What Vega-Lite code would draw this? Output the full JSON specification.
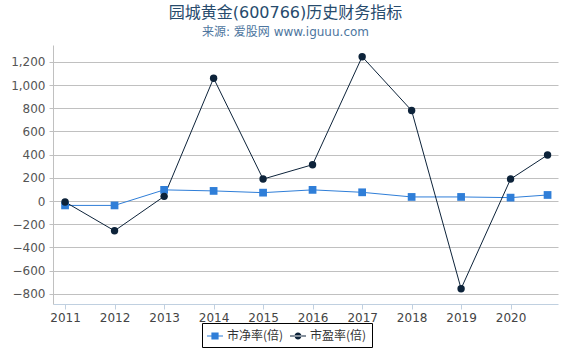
{
  "$schema": "https://vega.github.io/schema/vega-lite/v6.json",
  "width": 505,
  "height": 259,
  "autosize": {"type": "none"},
  "padding": {"left": 53, "top": 45, "right": 12, "bottom": 46},
  "background": "white",
  "title": {
    "text": "园城黄金(600766)历史财务指标",
    "subtitle": "来源: 爱股网 www.iguuu.com",
    "anchor": "middle",
    "dx": -20,
    "offset": 7,
    "font": "DejaVu Sans, Noto Sans CJK SC",
    "fontSize": 16,
    "fontWeight": "normal",
    "color": "#274b6d",
    "subtitleFont": "DejaVu Sans, Noto Sans CJK SC",
    "subtitleFontSize": 12,
    "subtitleColor": "#4d759e",
    "subtitlePadding": 6
  },
  "config": {
    "view": {"stroke": null},
    "font": "DejaVu Sans"
  },
  "data": {
    "values": [
      {"date": "2011-01-01", "series": "市净率(倍)", "value": -38},
      {"date": "2012-01-01", "series": "市净率(倍)", "value": -38},
      {"date": "2013-01-01", "series": "市净率(倍)", "value": 96},
      {"date": "2014-01-01", "series": "市净率(倍)", "value": 87},
      {"date": "2015-01-01", "series": "市净率(倍)", "value": 72},
      {"date": "2016-01-01", "series": "市净率(倍)", "value": 96},
      {"date": "2017-01-01", "series": "市净率(倍)", "value": 75},
      {"date": "2018-01-01", "series": "市净率(倍)", "value": 35},
      {"date": "2019-01-01", "series": "市净率(倍)", "value": 35},
      {"date": "2020-01-01", "series": "市净率(倍)", "value": 29},
      {"date": "2020-09-30", "series": "市净率(倍)", "value": 52},
      {"date": "2011-01-01", "series": "市盈率(倍)", "value": -8},
      {"date": "2012-01-01", "series": "市盈率(倍)", "value": -257},
      {"date": "2013-01-01", "series": "市盈率(倍)", "value": 40},
      {"date": "2014-01-01", "series": "市盈率(倍)", "value": 1059},
      {"date": "2015-01-01", "series": "市盈率(倍)", "value": 189},
      {"date": "2016-01-01", "series": "市盈率(倍)", "value": 313},
      {"date": "2017-01-01", "series": "市盈率(倍)", "value": 1244},
      {"date": "2018-01-01", "series": "市盈率(倍)", "value": 780},
      {"date": "2019-01-01", "series": "市盈率(倍)", "value": -756},
      {"date": "2020-01-01", "series": "市盈率(倍)", "value": 189},
      {"date": "2020-09-30", "series": "市盈率(倍)", "value": 397}
    ]
  },
  "encoding": {
    "x": {
      "field": "date",
      "type": "temporal",
      "scale": {"domain": ["2010-10-04", "2020-12-16"], "nice": false},
      "axis": {
        "title": null,
        "format": "%Y",
        "values": ["2011-01-01", "2012-01-01", "2013-01-01", "2014-01-01", "2015-01-01", "2016-01-01", "2017-01-01", "2018-01-01", "2019-01-01", "2020-01-01"],
        "grid": false,
        "domainColor": "#c0d0e0",
        "tickColor": "#c0d0e0",
        "tickSize": 5,
        "labelFont": "DejaVu Sans",
        "labelFontSize": 12,
        "labelColor": "#444",
        "labelPadding": 3,
        "labelFlush": false
      }
    },
    "y": {
      "field": "value",
      "type": "quantitative",
      "scale": {"domain": [-888, 1345], "nice": false, "zero": false},
      "axis": {
        "title": null,
        "values": [-800, -600, -400, -200, 0, 200, 400, 600, 800, 1000, 1200],
        "grid": true,
        "gridColor": "#c0c0c0",
        "domain": true,
        "domainColor": "#c0c0c0",
        "tickColor": "#c0c0c0",
        "tickSize": 4,
        "labelFont": "DejaVu Sans",
        "labelFontSize": 12,
        "labelColor": "#555",
        "labelPadding": 4
      }
    },
    "color": {
      "field": "series",
      "type": "nominal",
      "scale": {"domain": ["市净率(倍)", "市盈率(倍)"], "range": ["#2f7ed8", "#0d233a"]},
      "legend": {
        "title": null,
        "orient": "none",
        "legendX": 149,
        "legendY": 278,
        "direction": "horizontal",
        "strokeColor": "black",
        "padding": 5,
        "labelFont": "Noto Sans CJK SC",
        "labelFontSize": 12,
        "labelColor": "#333",
        "symbolSize": 256,
        "symbolStrokeWidth": 0,
        "symbolOpacity": 1,
        "columnPadding": 6,
        "labelOffset": 4,
        "encoding": {
          "symbols": {
            "shape": {
              "condition": {"test": "datum.value === '市净率(倍)'", "value": "M-1,-0.07H1V0.07H-1Z M-0.45,-0.45H0.45V0.45H-0.45Z"},
              "value": "M-1,-0.07H1V0.07H-1Z M-0.43,0 A0.43,0.43 0 1,0 0.43,0 A0.43,0.43 0 1,0 -0.43,0Z"
            },
            "fill": {
              "condition": {"test": "datum.value === '市净率(倍)'", "value": "#2f7ed8"},
              "value": "#0d233a"
            },
            "strokeWidth": {"value": 0},
            "opacity": {"value": 1}
          }
        }
      }
    }
  },
  "layer": [
    {
      "mark": {"type": "line", "strokeWidth": 1}
    },
    {
      "transform": [{"filter": "datum.series === '市净率(倍)'"}],
      "mark": {"type": "point", "filled": true, "opacity": 1, "size": 60, "shape": "square"}
    },
    {
      "transform": [{"filter": "datum.series === '市盈率(倍)'"}],
      "mark": {"type": "point", "filled": true, "opacity": 1, "size": 55, "shape": "circle"}
    }
  ]
}
